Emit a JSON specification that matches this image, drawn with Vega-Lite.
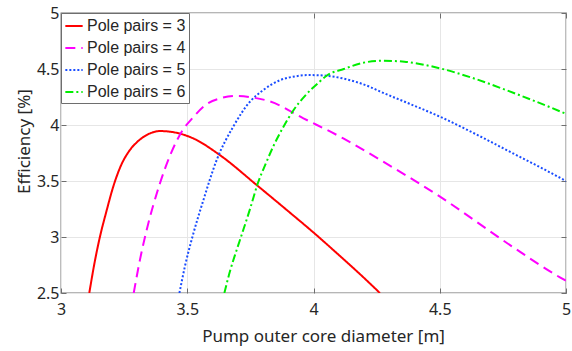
{
  "$schema": "https://vega.github.io/schema/vega-lite/v6.json",
  "width": 505,
  "height": 280,
  "autosize": {"type": "none"},
  "padding": {"left": 61, "top": 13, "right": 6, "bottom": 58},
  "background": "white",
  "config": {
    "font": "Noto Sans",
    "view": {"stroke": "#6e6e6e", "strokeWidth": 1.3},
    "axis": {
      "labelFont": "Noto Sans",
      "titleFont": "Noto Sans",
      "labelFontSize": 16,
      "titleFontSize": 17,
      "titleFontWeight": "normal",
      "labelColor": "#262626",
      "titleColor": "#262626",
      "gridColor": "#e6e6e6",
      "gridWidth": 1,
      "tickColor": "#6e6e6e",
      "domain": false,
      "format": "~g"
    }
  },
  "data": {
    "values": [
      {"s": "Pole pairs = 3", "x": 3.112, "y": 2.5},
      {"s": "Pole pairs = 3", "x": 3.135, "y": 2.795},
      {"s": "Pole pairs = 3", "x": 3.154, "y": 3.0},
      {"s": "Pole pairs = 3", "x": 3.18, "y": 3.23},
      {"s": "Pole pairs = 3", "x": 3.207, "y": 3.45},
      {"s": "Pole pairs = 3", "x": 3.234, "y": 3.62},
      {"s": "Pole pairs = 3", "x": 3.273, "y": 3.777},
      {"s": "Pole pairs = 3", "x": 3.30, "y": 3.845},
      {"s": "Pole pairs = 3", "x": 3.339, "y": 3.91},
      {"s": "Pole pairs = 3", "x": 3.392, "y": 3.946},
      {"s": "Pole pairs = 3", "x": 3.458, "y": 3.93},
      {"s": "Pole pairs = 3", "x": 3.524, "y": 3.88},
      {"s": "Pole pairs = 3", "x": 3.63, "y": 3.73},
      {"s": "Pole pairs = 3", "x": 3.775, "y": 3.464},
      {"s": "Pole pairs = 3", "x": 3.9, "y": 3.23},
      {"s": "Pole pairs = 3", "x": 4.0, "y": 3.04},
      {"s": "Pole pairs = 3", "x": 4.105, "y": 2.83},
      {"s": "Pole pairs = 3", "x": 4.2, "y": 2.635},
      {"s": "Pole pairs = 3", "x": 4.263, "y": 2.5},

      {"s": "Pole pairs = 4", "x": 3.288, "y": 2.5},
      {"s": "Pole pairs = 4", "x": 3.313, "y": 2.80},
      {"s": "Pole pairs = 4", "x": 3.339, "y": 3.06},
      {"s": "Pole pairs = 4", "x": 3.392, "y": 3.48},
      {"s": "Pole pairs = 4", "x": 3.438, "y": 3.76},
      {"s": "Pole pairs = 4", "x": 3.478, "y": 3.94},
      {"s": "Pole pairs = 4", "x": 3.524, "y": 4.07},
      {"s": "Pole pairs = 4", "x": 3.57, "y": 4.175},
      {"s": "Pole pairs = 4", "x": 3.63, "y": 4.238},
      {"s": "Pole pairs = 4", "x": 3.696, "y": 4.259},
      {"s": "Pole pairs = 4", "x": 3.76, "y": 4.245},
      {"s": "Pole pairs = 4", "x": 3.828, "y": 4.21},
      {"s": "Pole pairs = 4", "x": 3.96, "y": 4.06},
      {"s": "Pole pairs = 4", "x": 4.118, "y": 3.88},
      {"s": "Pole pairs = 4", "x": 4.263, "y": 3.69},
      {"s": "Pole pairs = 4", "x": 4.501, "y": 3.36},
      {"s": "Pole pairs = 4", "x": 4.79, "y": 2.91},
      {"s": "Pole pairs = 4", "x": 4.976, "y": 2.64},
      {"s": "Pole pairs = 4", "x": 5.0, "y": 2.61},

      {"s": "Pole pairs = 5", "x": 3.469, "y": 2.5},
      {"s": "Pole pairs = 5", "x": 3.491, "y": 2.74},
      {"s": "Pole pairs = 5", "x": 3.524, "y": 3.03},
      {"s": "Pole pairs = 5", "x": 3.564, "y": 3.33},
      {"s": "Pole pairs = 5", "x": 3.617, "y": 3.69},
      {"s": "Pole pairs = 5", "x": 3.682, "y": 3.985},
      {"s": "Pole pairs = 5", "x": 3.749, "y": 4.21},
      {"s": "Pole pairs = 5", "x": 3.80, "y": 4.31},
      {"s": "Pole pairs = 5", "x": 3.867, "y": 4.40},
      {"s": "Pole pairs = 5", "x": 3.93, "y": 4.435},
      {"s": "Pole pairs = 5", "x": 3.98, "y": 4.446},
      {"s": "Pole pairs = 5", "x": 4.05, "y": 4.44},
      {"s": "Pole pairs = 5", "x": 4.118, "y": 4.415},
      {"s": "Pole pairs = 5", "x": 4.224, "y": 4.34},
      {"s": "Pole pairs = 5", "x": 4.263, "y": 4.30},
      {"s": "Pole pairs = 5", "x": 4.38, "y": 4.19},
      {"s": "Pole pairs = 5", "x": 4.501, "y": 4.074},
      {"s": "Pole pairs = 5", "x": 4.65, "y": 3.91},
      {"s": "Pole pairs = 5", "x": 4.79, "y": 3.747},
      {"s": "Pole pairs = 5", "x": 4.90, "y": 3.62},
      {"s": "Pole pairs = 5", "x": 5.0, "y": 3.50},

      {"s": "Pole pairs = 6", "x": 3.647, "y": 2.5},
      {"s": "Pole pairs = 6", "x": 3.67, "y": 2.70},
      {"s": "Pole pairs = 6", "x": 3.695, "y": 2.88},
      {"s": "Pole pairs = 6", "x": 3.72, "y": 3.05},
      {"s": "Pole pairs = 6", "x": 3.75, "y": 3.26},
      {"s": "Pole pairs = 6", "x": 3.778, "y": 3.47},
      {"s": "Pole pairs = 6", "x": 3.81, "y": 3.65},
      {"s": "Pole pairs = 6", "x": 3.841, "y": 3.81},
      {"s": "Pole pairs = 6", "x": 3.88, "y": 3.98},
      {"s": "Pole pairs = 6", "x": 3.92, "y": 4.13},
      {"s": "Pole pairs = 6", "x": 3.97, "y": 4.27},
      {"s": "Pole pairs = 6", "x": 4.026, "y": 4.39},
      {"s": "Pole pairs = 6", "x": 4.052, "y": 4.44},
      {"s": "Pole pairs = 6", "x": 4.12, "y": 4.50},
      {"s": "Pole pairs = 6", "x": 4.197, "y": 4.556},
      {"s": "Pole pairs = 6", "x": 4.276, "y": 4.574},
      {"s": "Pole pairs = 6", "x": 4.36, "y": 4.565},
      {"s": "Pole pairs = 6", "x": 4.501, "y": 4.506},
      {"s": "Pole pairs = 6", "x": 4.63, "y": 4.42},
      {"s": "Pole pairs = 6", "x": 4.765, "y": 4.31},
      {"s": "Pole pairs = 6", "x": 4.88, "y": 4.21},
      {"s": "Pole pairs = 6", "x": 5.0, "y": 4.10}
    ]
  },
  "resolve": {"axis": {"x": "independent", "y": "independent"}},
  "layer": [
    {
      "mark": {"type": "line", "strokeWidth": 2, "interpolate": "monotone", "clip": true},
      "encoding": {
        "x": {
          "field": "x", "type": "quantitative",
          "scale": {"domain": [3, 5], "nice": false, "zero": false},
          "axis": {"orient": "bottom", "values": [3, 3.5, 4, 4.5, 5], "title": "Pump outer core diameter [m]", "tickSize": -5, "labelPadding": 13, "titlePadding": 11, "titleX": 262, "labelFlush": false}
        },
        "y": {
          "field": "y", "type": "quantitative",
          "scale": {"domain": [2.5, 5], "nice": false, "zero": false},
          "axis": {"orient": "left", "values": [2.5, 3, 3.5, 4, 4.5, 5], "title": "Efficiency [%]", "tickSize": -5, "labelPadding": 7, "titlePadding": 3, "titleY": 128}
        },
        "color": {
          "field": "s", "type": "nominal",
          "scale": {"domain": ["Pole pairs = 3", "Pole pairs = 4", "Pole pairs = 5", "Pole pairs = 6"], "range": ["#ff0000", "#ff00ff", "#1a4dff", "#00ee00"]},
          "legend": {
            "title": null, "orient": "none", "legendX": 0, "legendY": 0,
            "fillColor": "white", "strokeColor": "#6e6e6e", "padding": 3,
            "symbolType": "stroke", "symbolSize": 300, "symbolStrokeWidth": 2,
            "labelFontSize": 16, "labelFont": "Liberation Sans", "labelColor": "#262626",
            "labelOffset": 3, "rowPadding": 4, "labelLimit": 200
          }
        },
        "strokeDash": {
          "field": "s", "type": "nominal",
          "scale": {"domain": ["Pole pairs = 3", "Pole pairs = 4", "Pole pairs = 5", "Pole pairs = 6"], "range": [[1, 0], [10, 6], [2, 2], [8, 3, 2, 3]]},
          "legend": {
            "title": null, "orient": "none", "legendX": 0, "legendY": 0,
            "fillColor": "white", "strokeColor": "#6e6e6e", "padding": 3,
            "symbolType": "stroke", "symbolSize": 300, "symbolStrokeWidth": 2,
            "labelFontSize": 16, "labelFont": "Liberation Sans", "labelColor": "#262626",
            "labelOffset": 3, "rowPadding": 4, "labelLimit": 200
          }
        }
      }
    },
    {
      "mark": {"type": "point", "opacity": 0},
      "encoding": {
        "x": {
          "field": "x", "type": "quantitative",
          "axis": {"orient": "top", "values": [3, 3.5, 4, 4.5, 5], "labels": false, "grid": false, "title": null, "tickSize": -5}
        },
        "y": {
          "field": "y", "type": "quantitative",
          "axis": {"orient": "right", "values": [2.5, 3, 3.5, 4, 4.5, 5], "labels": false, "grid": false, "title": null, "tickSize": -5}
        }
      }
    }
  ]
}
